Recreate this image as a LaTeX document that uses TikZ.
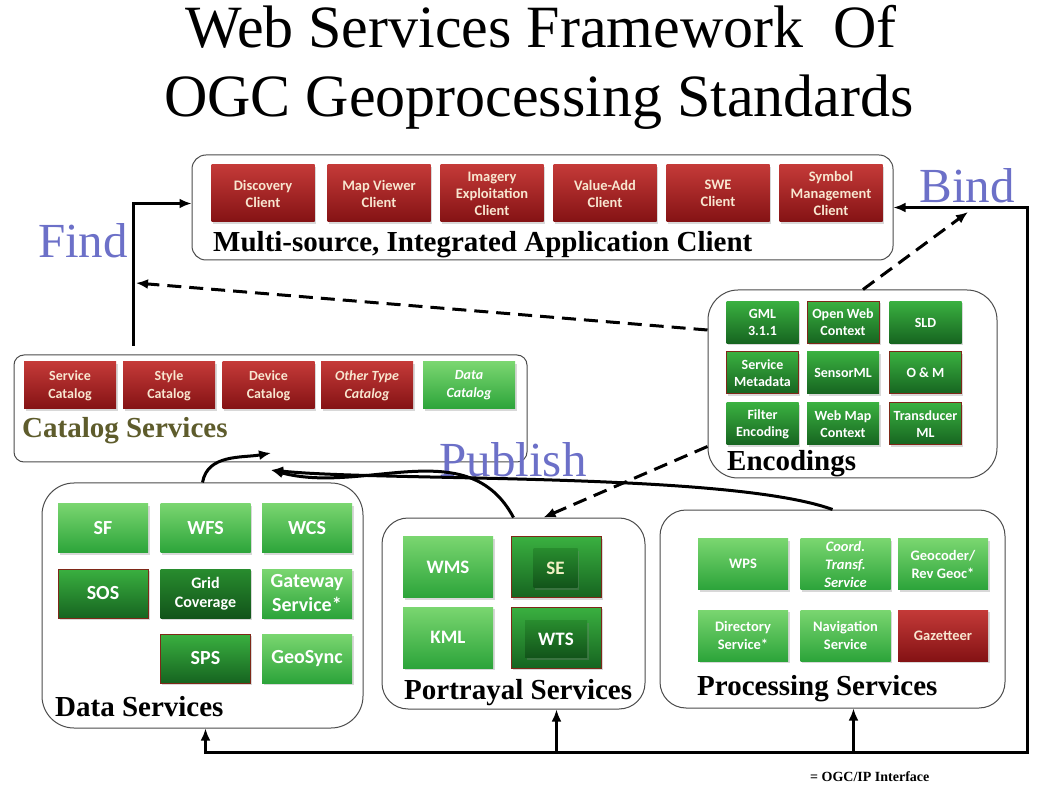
\documentclass[tikz,border=0pt]{standalone}
\usepackage{fontspec}
\setmainfont{Liberation Serif}
\setsansfont{Carlito}
\usetikzlibrary{arrows.meta,shadows}

\definecolor{redtop}{RGB}{196,58,56}
\definecolor{redbot}{RGB}{132,18,20}
\definecolor{lgtop}{RGB}{122,214,112}
\definecolor{lgbot}{RGB}{44,164,58}
\definecolor{dgtop}{RGB}{58,176,64}
\definecolor{dgbot}{RGB}{22,100,32}
\definecolor{coretop}{RGB}{40,140,46}
\definecolor{corebot}{RGB}{18,84,26}
\definecolor{rimred}{RGB}{126,40,24}
\definecolor{cream}{RGB}{248,230,208}
\definecolor{paleyel}{RGB}{242,240,196}
\definecolor{verbblue}{RGB}{108,112,200}
\definecolor{olive}{RGB}{94,92,44}

\tikzset{
  tile/.style={rectangle, align=center, inner sep=1pt,
    drop shadow={opacity=0.3, shadow xshift=1.5pt, shadow yshift=-2pt}},
  tsize/.style 2 args={font=\sffamily\bfseries\fontsize{#1}{#2}\selectfont},
  redtile/.style={tile, top color=redtop, bottom color=redbot, text=cream},
  lgtile/.style={tile, top color=lgtop, bottom color=lgbot, text=white},
  dgtile/.style={tile, top color=dgtop, bottom color=dgbot, text=white},
  dgrim/.style={dgtile, draw=rimred, line width=1pt},
  core/.style={tile, top color=coretop, bottom color=corebot, text=white},
  group/.style={draw=black!70, line width=1pt, rounded corners=#1, inner sep=0pt},
  grouplabel/.style={anchor=base west, inner sep=0pt,
    font=\rmfamily\bfseries\fontsize{29}{29}\selectfont},
  headline/.style={anchor=base, inner sep=0pt, font=\rmfamily\fontsize{60}{60}\selectfont},
  verb/.style={anchor=base, inner sep=0pt, text=verbblue,
    font=\rmfamily\fontsize{49}{49}\selectfont},
  link/.style={line width=3pt},
  dlink/.style={line width=3pt, dash pattern=on 14pt off 8pt},
}

\begin{document}
\begin{tikzpicture}[x=1pt, y=-1pt, >={Latex[length=12pt,width=10pt]}]
\fill[white] (0,0) rectangle (1050,791);
\useasboundingbox (0,0) rectangle (1050,791);

% title
\node[headline] (title1) at (541,48) {Web Services Framework\ \ Of};
\node[headline] (title2) at (539,117) {OGC Geoprocessing Standards};

% containers
\node[group=14pt, minimum width=701pt, minimum height=105pt] (client) at (542.5,207.5) {};
\node[group=10pt, minimum width=513pt, minimum height=107pt] (catalog) at (270.5,408.5) {};
\node[group=30pt, minimum width=289pt, minimum height=188pt] (enc) at (852.5,384) {};
\node[group=32pt, minimum width=321pt, minimum height=245pt] (data) at (202.5,605.5) {};
\node[group=26pt, minimum width=263pt, minimum height=191pt] (portr) at (513.5,613.5) {};
\node[group=26pt, minimum width=345pt, minimum height=198pt] (proc) at (832.5,609) {};

% clients
\foreach \nm/\cx/\txt in {disc/263/Discovery\\Client, mapv/379/Map Viewer\\Client,
    imag/492/Imagery\\Exploitation\\Client, vadd/605/Value-Add\\Client,
    swe/718/SWE\\Client, symb/831/Symbol\\Management\\Client}
  \node[redtile, tsize={14.5}{17}, minimum width=103pt, minimum height=57pt] (\nm) at (\cx,193.5) {\txt};
\node[grouplabel] (clientlbl) at (213,252) {Multi-source, Integrated Application Client};

% catalogs
\foreach \nm/\cx/\st/\txt in {svcc/70/redtile/Service\\Catalog, stlc/169/redtile/Style\\Catalog,
    devc/268.5/redtile/Device\\Catalog, othc/367/redtile/\itshape Other Type\\\itshape Catalog,
    datc/469/lgtile/\itshape Data\\\itshape Catalog}
  \node[\st, tsize={14}{18}, minimum width=92pt, minimum height=47pt] (\nm) at (\cx,385.5) {\txt};
\node[grouplabel, text=olive] (catlbl) at (22,438) {Catalog Services};

% encodings
\foreach \nm/\cx/\cy/\st/\txt in {gml/762.5/322.5/dgtile/GML\\3.1.1, owc/843/322.5/dgrim/Open Web\\Context,
    sld/925.5/322.5/dgtile/SLD, smeta/762.5/373/dgrim/Service\\Metadata,
    sml/843/373/dgtile/SensorML, om/925.5/373/dgrim/O \& M,
    filt/762.5/424/dgtile/Filter\\Encoding, wmc/843/424/dgtile/Web Map\\Context,
    tml/925.5/424/dgrim/Transducer\\ML}
  \node[\st, tsize={14}{17}, minimum width=72pt, minimum height=42pt] (\nm) at (\cx,\cy) {\txt};
\node[grouplabel] (enclbl) at (727,471) {Encodings};

% data services
\foreach \nm/\cx/\cy/\st/\txt in {sf/103/528/lgtile/SF, wfs/205.5/528/lgtile/WFS,
    wcs/307/528/lgtile/WCS, sos/103/593.5/dgrim/SOS, gate/307/593.5/lgtile/Gateway\\Service*,
    sps/205.5/658.5/dgrim/SPS, geos/307/658.5/lgtile/GeoSync}
  \node[\st, tsize={20}{24}, minimum width=90pt, minimum height=49pt] (\nm) at (\cx,\cy) {\txt};
\node[dgtile, top color=coretop, bottom color=corebot, tsize={16}{19}, minimum width=90pt, minimum height=49pt] (grid) at (205.5,593.5) {Grid\\Coverage};
\node[grouplabel] (datalbl) at (55,716) {Data Services};

% portrayal services
\foreach \nm/\cx/\cy/\st in {wms/448/567/lgtile, se/556.5/567/dgrim, kml/448/637.5/lgtile, wts/556.5/637.5/dgrim}
  \node[\st, minimum width=90pt, minimum height=61pt] (\nm) at (\cx,\cy) {};
\node[tsize={19}{22}, text=white] (wmstxt) at (wms) {WMS};
\node[tsize={19}{22}, text=white] (kmltxt) at (kml) {KML};
\node[core, tsize={19}{22}, text=paleyel, minimum width=44pt, minimum height=39pt] (secore) at (555.5,568) {SE};
\node[core, tsize={19}{22}, minimum width=62pt, minimum height=37pt] (wtscore) at (556,639) {WTS};
\node[grouplabel] (portrlbl) at (404,699) {Portrayal Services};

% processing services
\foreach \nm/\cx/\cy/\st/\txt in {wps/743/564/lgtile/WPS,
    ctrans/845.5/564/lgtile/\itshape Coord.\\\itshape Transf.\\\itshape Service,
    geoc/943/564/lgtile/Geocoder\slash\\Rev Geoc*, dirs/743/635.5/lgtile/Directory\\Service*,
    navs/845.5/635.5/lgtile/Navigation\\Service, gaz/943/635.5/redtile/Gazetteer}
  \node[\st, tsize={14.5}{18}, minimum width=90pt, minimum height=51pt] (\nm) at (\cx,\cy) {\txt};
\node[grouplabel] (proclbl) at (697,695) {Processing Services};

% verbs
\node[verb] (find) at (83,258) {Find};
\node[verb] (bind) at (967,203) {Bind};
\node[verb] (publish) at (513,477) {Publish};

% interfaces
\coordinate (findfoot) at (133,346);
\coordinate (findhit) at (136,283);
\coordinate (bindhit) at (968,212);
\coordinate (busR) at (1027,752);
\coordinate (pubA) at (271,453);
\coordinate (pubB) at (271,470);

\draw[link,->] (findfoot) |- ([yshift=4pt]client.west);
\draw[dlink,->] ([yshift=54pt]enc.west) -- (findhit);
\draw[dlink,->] ([xshift=10.5pt]enc.north) -- (bindhit);
\draw[link,<->] (client.east) -| (busR) -| ([xshift=3pt]data.south);
\draw[link,->] ([xshift=43pt]portr.south |- busR) -- ([xshift=43pt]portr.south);
\draw[link,->] ([xshift=21pt]proc.south |- busR) -- ([xshift=21pt]proc.south);

\draw[link,->] (data.north) to[out=80, in=190] (pubA);
\draw[link,->] (portr.north) to[out=118, in=-15] (pubB);
\draw[link,->] (proc.north) to[out=160, in=-6, looseness=0.5] (pubB);
\draw[dlink,->] ([yshift=32pt]enc.south west) -- ([xshift=30pt]portr.north);

\node[anchor=base west, inner sep=0pt, font=\rmfamily\bfseries\fontsize{14}{14}\selectfont] (key) at (810,781) {= OGC/IP Interface};
\end{tikzpicture}
\end{document}
